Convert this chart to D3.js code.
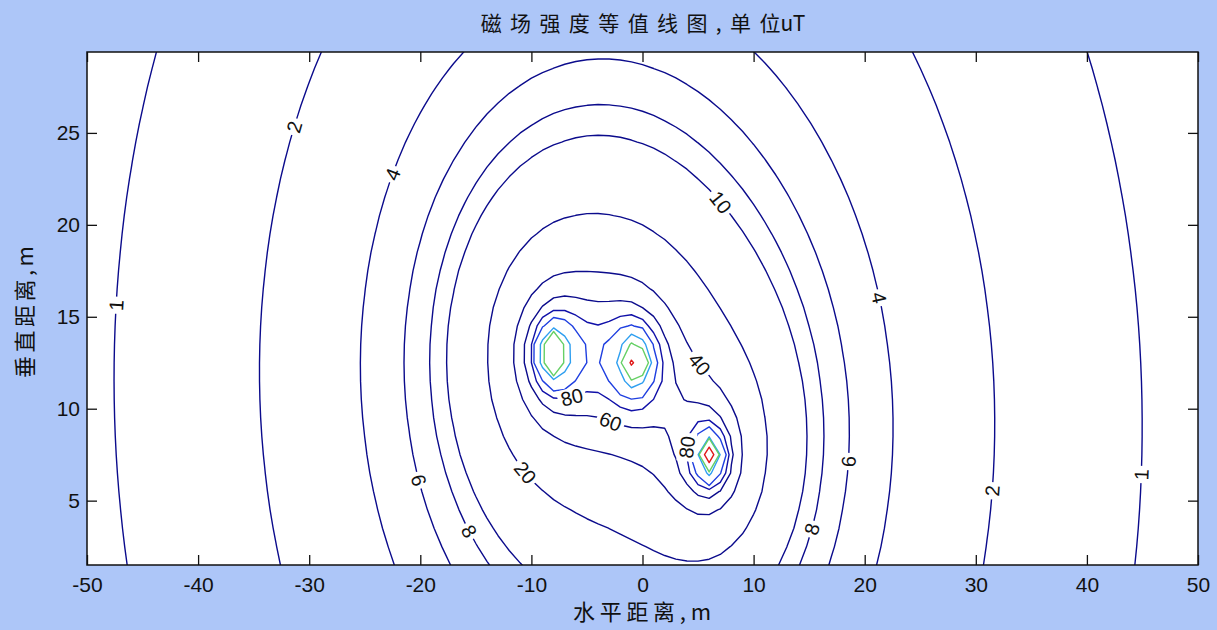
<!DOCTYPE html>
<html>
<head>
<meta charset="utf-8">
<script src="https://cdn.jsdelivr.net/npm/d3@7"></script>
<style>
  html, body { margin: 0; padding: 0; background: #adc6f8; }
  svg { display: block; }
</style>
</head>
<body>
<svg id="chart" width="1217" height="630"></svg>
<script>
// Three-phase conductors: positions (m), RMS currents (A), phase angles (deg)
const conductorX = [-8.1, -0.64, 6.08];
const conductorY = [13.0, 12.6, 7.33];
const currentAmp = [951, 995, 701];
const phaseDeg = [0, -139.2, 105.4];

// Sampling grid (m)
const gridX = d3.range(-50, 50.0001, 1);
const gridY = d3.range(1.5, 29.5001, 1);

// Contour levels (uT) and line colours
const levels = [1, 2, 4, 6, 8, 10, 20, 40, 60, 80, 100, 150, 200, 500];
const levelColors = ["#0b0b8c", "#0b0b8c", "#0b0b8c", "#0b0b8c", "#0b0b8c", "#0b0b8c",
  "#0b0b8c", "#0b0b8c", "#0b0b8c", "#1010a8", "#1f3fe0", "#2f9ff0", "#66d066", "#e01818"];

// Axis ticks
const xTicks = [-50, -40, -30, -20, -10, 0, 10, 20, 30, 40, 50];
const yTicks = [5, 10, 15, 20, 25];

// Inline contour labels: level and approximate spot (m)
const labelSpots = [
  { level: 1, x: -46.6, y: 15.6 }, { level: 2, x: -30.6, y: 25.2 },
  { level: 4, x: -21.4, y: 22.5 }, { level: 10, x: 7.4, y: 21.4 },
  { level: 4, x: 21.8, y: 16.1 }, { level: 80, x: -6.6, y: 11.2 },
  { level: 40, x: 5.1, y: 12.4 }, { level: 60, x: -3.0, y: 9.1 },
  { level: 80, x: 4.1, y: 7.9 }, { level: 20, x: -10.2, y: 6.7 },
  { level: 6, x: -19.6, y: 6.2 }, { level: 6, x: 19.3, y: 7.1 },
  { level: 2, x: 32.4, y: 5.5 }, { level: 1, x: 45.6, y: 6.4 },
  { level: 8, x: -15.1, y: 3.5 }, { level: 8, x: 15.5, y: 3.4 }
];

const W = 1217, H = 630;
const M = { left: 87, right: 1198, top: 52, bottom: 565 };
const svg = d3.select("#chart");

svg.append("rect").attr("width", W).attr("height", H).attr("fill", "#adc6f8");
svg.append("rect").attr("x", M.left).attr("y", M.top)
  .attr("width", M.right - M.left).attr("height", M.bottom - M.top).attr("fill", "#ffffff");

const x = d3.scaleLinear().domain([-50, 50]).range([M.left, M.right]);
const y = d3.scaleLinear().domain([1.5, 29.4]).range([M.bottom, M.top]);

// RMS flux density of the line currents at a point (uT)
function fieldAt(px, py) {
  let bxr = 0, bxi = 0, byr = 0, byi = 0;
  for (let k = 0; k < conductorX.length; k++) {
    const dx = px - conductorX[k], dy = py - conductorY[k];
    const f = 0.2 * currentAmp[k] / (dx * dx + dy * dy);
    const c = Math.cos(phaseDeg[k] * Math.PI / 180), s = Math.sin(phaseDeg[k] * Math.PI / 180);
    bxr += -dy * f * c; bxi += -dy * f * s;
    byr += dx * f * c;  byi += dx * f * s;
  }
  return Math.sqrt(bxr * bxr + bxi * bxi + byr * byr + byi * byi);
}

const nx = gridX.length, ny = gridY.length;
const values = new Array(nx * ny);
for (let j = 0; j < ny; j++)
  for (let i = 0; i < nx; i++) values[j * nx + i] = fieldAt(gridX[i], gridY[j]);

const dxg = gridX[1] - gridX[0], dyg = gridY[1] - gridY[0];
const toPx = p => [x(gridX[0] + (p[0] - 0.5) * dxg), y(gridY[0] + (p[1] - 0.5) * dyg)];
const onFrame = p => p[0] <= 1e-9 || p[0] >= nx - 1e-9 || p[1] <= 1e-9 || p[1] >= ny - 1e-9;

// Turn the isoband outlines into open / closed contour polylines
const contourSets = d3.contours().size([nx, ny]).thresholds(levels)(values);
const lines = [];
contourSets.forEach((mp, li) => {
  mp.coordinates.forEach(poly => poly.forEach(ring => {
    const n = ring.length;
    const keep = [];
    let allKept = true;
    for (let s = 0; s < n - 1; s++) {
      const k = !(onFrame(ring[s]) && onFrame(ring[s + 1]));
      keep.push(k);
      if (!k) allKept = false;
    }
    if (allKept) { lines.push({ li, pts: ring.map(toPx), closed: true }); return; }
    const start = keep.findIndex(k => !k);
    let cur = null;
    for (let t = 1; t <= keep.length; t++) {
      const s = (start + t) % keep.length;
      if (keep[s]) { if (!cur) cur = [ring[s]]; cur.push(ring[s + 1]); }
      else if (cur) { lines.push({ li, pts: cur.map(toPx), closed: false }); cur = null; }
    }
    if (cur) lines.push({ li, pts: cur.map(toPx), closed: false });
  }));
});

const defs = svg.append("defs");
defs.append("clipPath").attr("id", "plotClip").append("rect")
  .attr("x", M.left).attr("y", M.top).attr("width", M.right - M.left).attr("height", M.bottom - M.top);
const mask = defs.append("mask").attr("id", "labelGaps").attr("maskUnits", "userSpaceOnUse")
  .attr("x", 0).attr("y", 0).attr("width", W).attr("height", H);
mask.append("rect").attr("width", W).attr("height", H).attr("fill", "#fff");

// Snap each label onto the nearest contour of its level, aligned with the line
const labelFont = 20;
const placed = labelSpots.map(spot => {
  const li = levels.indexOf(spot.level);
  const sx = x(spot.x), sy = y(spot.y);
  let best = null;
  lines.filter(l => l.li === li).forEach(l => {
    for (let s = 0; s < l.pts.length - 1; s++) {
      const a = l.pts[s], b = l.pts[s + 1];
      const vx = b[0] - a[0], vy = b[1] - a[1];
      const len2 = vx * vx + vy * vy || 1e-9;
      let t = ((sx - a[0]) * vx + (sy - a[1]) * vy) / len2;
      t = Math.max(0, Math.min(1, t));
      const qx = a[0] + t * vx, qy = a[1] + t * vy;
      const d = (qx - sx) ** 2 + (qy - sy) ** 2;
      if (!best || d < best.d) best = { d, qx, qy, ang: Math.atan2(vy, vx) * 180 / Math.PI };
    }
  });
  if (!best) return null;
  let ang = best.ang;
  if (ang >= 90) ang -= 180;
  if (ang < -90) ang += 180;
  return { text: String(spot.level), px: best.qx, py: best.qy, ang };
}).filter(Boolean);

placed.forEach(p => {
  const w = p.text.length * labelFont * 0.56 + 6;
  mask.append("rect").attr("x", -w / 2).attr("y", -labelFont * 0.45)
    .attr("width", w).attr("height", labelFont * 0.9).attr("fill", "#000")
    .attr("transform", `translate(${p.px},${p.py}) rotate(${p.ang})`);
});

const lineGen = d3.line();
const cg = svg.append("g").attr("clip-path", "url(#plotClip)")
  .append("g").attr("mask", "url(#labelGaps)");
cg.selectAll("path").data(lines).join("path")
  .attr("d", l => lineGen(l.pts) + (l.closed ? "Z" : ""))
  .attr("fill", "none")
  .attr("stroke", l => levelColors[l.li])
  .attr("stroke-width", 1.4)
  .attr("stroke-linejoin", "round");

svg.append("g").selectAll("text").data(placed).join("text")
  .attr("transform", p => `translate(${p.px},${p.py}) rotate(${p.ang})`)
  .attr("text-anchor", "middle").attr("dy", "0.36em")
  .attr("font-family", "'Liberation Sans', Arial, sans-serif")
  .attr("font-size", labelFont).attr("fill", "#111")
  .text(p => p.text);

// Axes: ticks pointing inward on all four sides
const tickFont = "'Liberation Sans', Arial, sans-serif";
function styleAxis(g) {
  g.select(".domain").remove();
  g.selectAll("line").attr("stroke", "#111").attr("stroke-width", 1.3);
  g.selectAll("text").attr("font-family", tickFont).attr("font-size", 21).attr("fill", "#111");
}
svg.append("g").attr("transform", `translate(0,${M.bottom})`)
  .call(d3.axisBottom(x).tickValues(xTicks).tickFormat(d => String(d)).tickSizeInner(-10).tickSizeOuter(0).tickPadding(12)).call(styleAxis);
svg.append("g").attr("transform", `translate(0,${M.top})`)
  .call(d3.axisTop(x).tickValues(xTicks).tickSizeInner(-10).tickSizeOuter(0).tickFormat(() => "")).call(styleAxis);
svg.append("g").attr("transform", `translate(${M.left},0)`)
  .call(d3.axisLeft(y).tickValues(yTicks).tickSizeInner(-10).tickSizeOuter(0).tickPadding(7)).call(styleAxis);
svg.append("g").attr("transform", `translate(${M.right},0)`)
  .call(d3.axisRight(y).tickValues(yTicks).tickSizeInner(-10).tickSizeOuter(0).tickFormat(() => "")).call(styleAxis);

svg.append("rect").attr("x", M.left).attr("y", M.top)
  .attr("width", M.right - M.left).attr("height", M.bottom - M.top)
  .attr("fill", "none").attr("stroke", "#111").attr("stroke-width", 1.5);

// Titles
const cjk = "'Noto Sans CJK SC', 'Noto Sans', sans-serif";
const title = svg.append("text").attr("x", 643).attr("y", 31).attr("text-anchor", "middle")
  .attr("font-family", cjk).attr("font-size", 21).attr("fill", "#111");
title.append("tspan").attr("letter-spacing", 8.4).text("磁场强度等值线图,单");
title.append("tspan").text("位uT");
svg.append("text").attr("x", 642).attr("y", 620).attr("text-anchor", "middle")
  .attr("font-family", cjk).attr("font-size", 22).attr("fill", "#111")
  .attr("textLength", 138).attr("lengthAdjust", "spacing")
  .text("水平距离,m");
svg.append("text").attr("transform", "translate(33,312) rotate(-90)").attr("text-anchor", "middle")
  .attr("font-family", cjk).attr("font-size", 22).attr("fill", "#111")
  .attr("textLength", 132).attr("lengthAdjust", "spacing")
  .text("垂直距离,m");
</script>
</body>
</html>
